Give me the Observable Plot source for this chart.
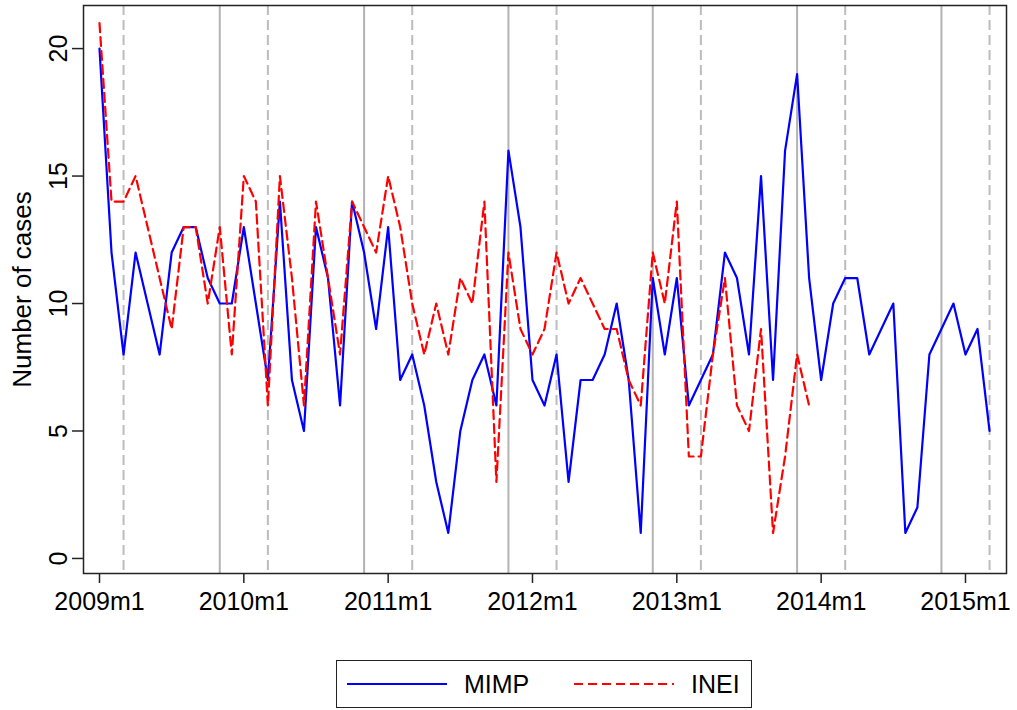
<!DOCTYPE html>
<html>
<head>
<meta charset="utf-8">
<script src="https://cdn.jsdelivr.net/npm/d3@7"></script>
<script src="https://cdn.jsdelivr.net/npm/@observablehq/plot@0.6"></script>
<style>
  html, body { margin: 0; padding: 0; background: #fff; }
  body { width: 1017px; height: 710px; position: relative; overflow: hidden;
         font-family: "Liberation Sans", Arial, Helvetica, sans-serif; }
  #chart { position: absolute; left: 0; top: 0; }
  #legend { position: absolute; left: 336px; top: 660px; width: 416px; height: 48px;
            border: 1.5px solid #222; box-sizing: border-box; background: #fff; }
</style>
</head>
<body>
<div id="chart"></div>
<div id="legend"></div>
<script>
// ---- data (monthly case counts, first value = 2009m1) ----
const startMonth = "2009m1";
const mimp = [
  20,12,8,12,10,8,12,13,13,11,10,10,   // 2009
  13,10,7,14,7,5,13,11,6,14,12,9,      // 2010
  13,7,8,6,3,1,5,7,8,6,16,13,          // 2011
  7,6,8,3,7,7,8,10,7,1,11,8,           // 2012
  11,6,7,8,12,11,8,15,7,16,19,11,      // 2013
  7,10,11,11,8,9,10,1,2,8,9,10,        // 2014
  8,9,5                                // 2015
];
const inei = [
  21,14,14,15,13,11,9,13,13,10,13,8,   // 2009
  15,14,6,15,11,6,14,11,8,14,13,12,    // 2010
  15,13,10,8,10,8,11,10,14,3,12,9,     // 2011
  8,9,12,10,11,10,9,9,7,6,12,10,       // 2012
  14,4,4,8,11,6,5,9,1,4,8,6            // 2013
];
const seriesNames = ["MIMP", "INEI"];
const xTickLabels = ["2009m1","2010m1","2011m1","2012m1","2013m1","2014m1","2015m1"];
const yTicks = [0, 5, 10, 15, 20];
const solidLineMonths = ["2009m11","2010m11","2011m11","2012m11","2013m11","2014m11"];
const dashedLineMonths = ["2009m3","2010m3","2011m3","2012m3","2013m3","2014m3","2015m3"];
const yLabel = "Number of cases";

// ---- helpers ----
function monthIndex(label) {
  const [y, m] = label.split("m").map(Number);
  const [y0, m0] = startMonth.split("m").map(Number);
  return (y - y0) * 12 + (m - m0);
}
function monthLabel(i) {
  const [y0, m0] = startMonth.split("m").map(Number);
  const k = i + (m0 - 1);
  return `${y0 + Math.floor(k / 12)}m${(k % 12) + 1}`;
}
const mimpData = mimp.map((v, i) => ({t: i, v}));
const ineiData = inei.map((v, i) => ({t: i, v}));

const FONT = '"Liberation Sans", Arial, Helvetica, sans-serif';

const chart = Plot.plot({
  width: 1017,
  height: 640,
  marginLeft: 83,
  marginRight: 11,
  marginTop: 5,
  marginBottom: 67,
  style: {fontFamily: FONT, fontSize: "25px", color: "#000", background: "#fff"},
  x: {domain: [-1.33, 75.41]},
  y: {domain: [-0.59, 21.69]},
  marks: [
    Plot.ruleX(solidLineMonths.map(monthIndex), {stroke: "#b3b3b3", strokeWidth: 2}),
    Plot.ruleX(dashedLineMonths.map(monthIndex), {stroke: "#bcbcbc", strokeWidth: 2, strokeDasharray: "10,5"}),
    Plot.lineY(mimpData, {x: "t", y: "v", stroke: "#0000ff", strokeWidth: 2.2}),
    Plot.lineY(ineiData, {x: "t", y: "v", stroke: "#ff0000", strokeWidth: 2.2, strokeDasharray: "9,5"}),
    Plot.frame({stroke: "#222", strokeWidth: 1.5}),
    Plot.axisX({ticks: xTickLabels.map(monthIndex), tickFormat: monthLabel, tickSize: 10, tickPadding: 9,
                fontSize: 25, label: null, stroke: "#222", strokeWidth: 1.5}),
    Plot.axisY({ticks: yTicks, tickSize: 11, tickRotate: -90, tickPadding: 6,
                fontSize: 25, label: null, stroke: "#222", strokeWidth: 1.5}),
    Plot.text([yLabel], {frameAnchor: "left", textAnchor: "middle", dx: -61, rotate: -90, fontSize: 26, fill: "#000"})
  ]
});
document.getElementById("chart").appendChild(chart);

// ---- legend ----
const lg = d3.select("#legend").append("svg").attr("width", 413).attr("height", 45)
  .style("font-family", FONT);
const items = [
  {name: seriesNames[0], color: "#0000ff", dash: null, x: 10},
  {name: seriesNames[1], color: "#ff0000", dash: "9,5", x: 237}
];
for (const it of items) {
  lg.append("line").attr("x1", it.x).attr("x2", it.x + 100).attr("y1", 23).attr("y2", 23)
    .attr("stroke", it.color).attr("stroke-width", 2).attr("stroke-dasharray", it.dash);
  lg.append("text").attr("x", it.x + 117).attr("y", 23).attr("dy", "0.35em")
    .attr("font-size", 25).attr("fill", "#000").text(it.name);
}
</script>
</body>
</html>
